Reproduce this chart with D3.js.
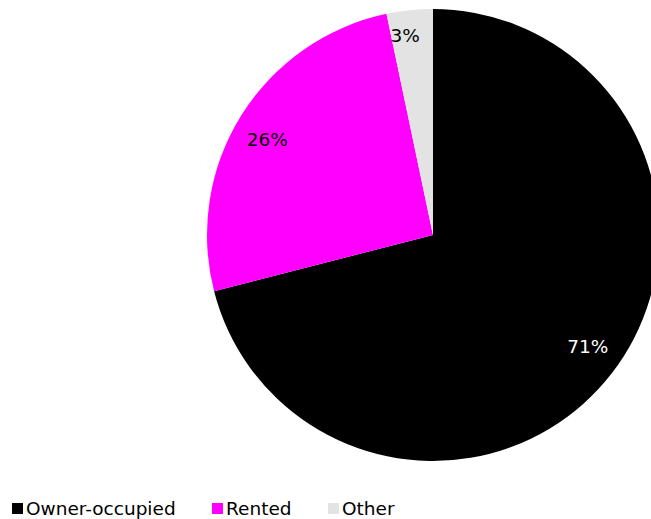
<!DOCTYPE html>
<html>
<head>
<meta charset="utf-8">
<script src="https://cdn.jsdelivr.net/npm/d3@7"></script>
<style>
  body { margin: 0; background: #fff; }
  text { font-family: "DejaVu Sans", Verdana, sans-serif; }
</style>
</head>
<body>
<div id="graph"></div>
<script>

// data
var categories = ["Owner-occupied", "Rented", "Other"];
var values = [71.0, 25.7, 3.3];
var labels = ["71%", "26%", "3%"];
var colors = ["#000000", "#ff00ff", "#e3e3e3"];
var labelColors = ["#ffffff", "#000000", "#000000"];

var width = 651, height = 519;
var cx = 433, cy = 235, radius = 226;

var svg = d3.select("#graph")
  .append("svg")
    .attr("width", width)
    .attr("height", height);

var data = categories.map(function(c, i) {
  return {name: c, value: values[i], label: labels[i], color: colors[i], labelColor: labelColors[i]};
});

var pie = d3.pie()
  .sort(null)
  .value(function(d) { return d.value; });

var arc = d3.arc()
  .innerRadius(0)
  .outerRadius(radius);

var g = svg.append("g")
  .attr("transform", "translate(" + cx + "," + cy + ")");

var arcs = pie(data);

g.selectAll("path")
  .data(arcs)
  .enter()
  .append("path")
    .attr("d", arc)
    .attr("fill", function(d) { return d.data.color; });

// labels sit a bit counter-clockwise of the slice middle
var labelPos = function(d) {
  var a = (d.startAngle + d.endAngle) / 2 - 2 * Math.PI / 180;
  var r = radius * (d.endAngle - d.startAngle < 0.5 ? 0.89 : 0.845);
  return [r * Math.sin(a), -r * Math.cos(a)];
};

g.selectAll("text.lbl")
  .data(arcs)
  .enter()
  .append("text")
    .attr("class", "lbl")
    .attr("transform", function(d) { return "translate(" + labelPos(d) + ")"; })
    .attr("text-anchor", "middle")
    .attr("dy", "0.35em")
    .style("font-size", "18.5px")
    .attr("fill", function(d) { return d.data.labelColor; })
    .text(function(d) { return d.data.label; });

// legend
var legendX = [12, 212, 328];
var legend = svg.append("g")
  .attr("transform", "translate(0,509)");

var items = legend.selectAll("g")
  .data(data)
  .enter()
  .append("g")
    .attr("transform", function(d, i) { return "translate(" + legendX[i] + ",0)"; });

items.append("rect")
  .attr("x", 0)
  .attr("y", -6)
  .attr("width", 11)
  .attr("height", 11)
  .attr("fill", function(d) { return d.color; });

items.append("text")
  .attr("x", 14)
  .attr("dy", "0.35em")
  .style("font-size", "18.5px")
  .attr("fill", "#000")
  .text(function(d) { return d.name; });

</script>
</body>
</html>
